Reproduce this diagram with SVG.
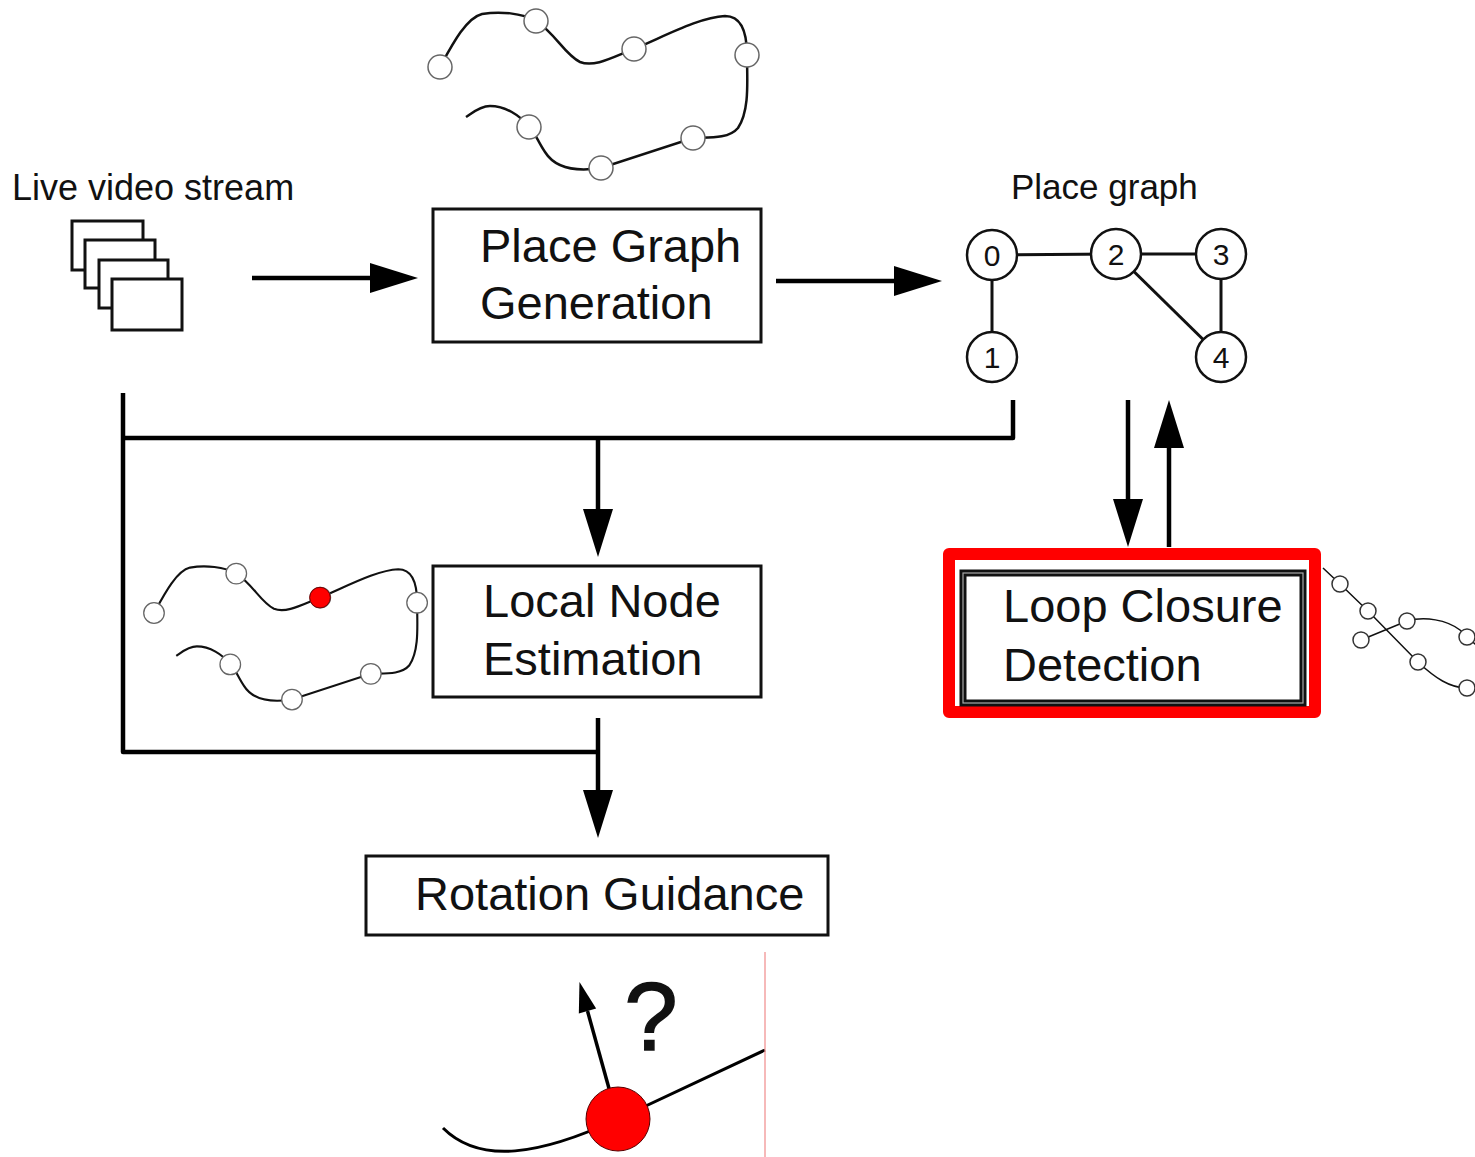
<svg xmlns="http://www.w3.org/2000/svg" xmlns:xlink="http://www.w3.org/1999/xlink" width="1475" height="1157" viewBox="0 0 1475 1157">
  <style>
    .label { font-family: "Liberation Sans", Arial, Helvetica, sans-serif; fill: #111; }
    .small { font-size: 35px; }
    .stream-title { font-size: 36px; }
    .box-text { font-size: 47px; }
    .digit { font-size: 30px; text-anchor: middle; }
    .box { fill: #fff; stroke: #111; stroke-width: 3; }
    .frame { fill: #fff; stroke: #111; stroke-width: 3; }
    .wire { fill: none; stroke: #000; stroke-width: 4.5; stroke-linejoin: round; }
    .edge { stroke: #111; stroke-width: 3; }
    .gnode { fill: #fff; stroke: #111; stroke-width: 2.5; }
    .track { fill: none; stroke: #111; stroke-width: 2.5; }
    .waypoint { fill: #fff; stroke: #666; stroke-width: 1.5; }
    .thin-track { fill: none; stroke: #111; stroke-width: 1.5; }
    .thin-waypoint { fill: #fff; stroke: #333; stroke-width: 1.5; }
  </style>
  <defs>
    <marker id="head" markerUnits="userSpaceOnUse" markerWidth="48" markerHeight="30" refX="0" refY="15" orient="auto" overflow="visible">
      <path d="M0,0 L48,15 L0,30 Z" fill="#000"/>
    </marker>
    <marker id="head-small" markerUnits="userSpaceOnUse" markerWidth="30" markerHeight="20" refX="0" refY="9" orient="auto" overflow="visible">
      <path d="M0,0 L30,9 L0,18 Z" fill="#000"/>
    </marker>
    <!-- trajectory sketch with sampled places -->
    <g id="trajectory">
      <path class="track" d="M440,67 C452,45 466,18 482,14 C500,11 522,13 536,21 C555,33 565,55 580,62 C595,68 615,56 634,49 C665,36 700,17 725,16 C745,16 747,40 747,55 C747,80 750,110 738,128 C728,140 705,137 693,138 L601,168 C575,172 555,168 545,152 C538,142 535,132 529,127 C520,115 505,106 490,106 C480,106 472,113 466,117"/>
      <circle class="waypoint" cx="440" cy="67" r="12"/>
      <circle class="waypoint" cx="536" cy="21" r="12"/>
      <circle class="waypoint" cx="634" cy="49" r="12"/>
      <circle class="waypoint" cx="747" cy="55" r="12"/>
      <circle class="waypoint" cx="529" cy="127" r="12"/>
      <circle class="waypoint" cx="601" cy="168" r="12"/>
      <circle class="waypoint" cx="693" cy="138" r="12"/>
    </g>
  </defs>

  <rect width="1475" height="1157" fill="#fff"/>

  <!-- connectors -->
  <g id="connectors">
    <line class="wire" x1="252" y1="278" x2="370" y2="278" marker-end="url(#head)"/>
    <line class="wire" x1="776" y1="281" x2="894" y2="281" marker-end="url(#head)"/>
    <path class="wire" d="M123,393 V752 H598"/>
    <path class="wire" d="M123,438 H1013 V400"/>
    <line class="wire" x1="598" y1="438" x2="598" y2="509" marker-end="url(#head)"/>
    <line class="wire" x1="598" y1="718" x2="598" y2="790" marker-end="url(#head)"/>
    <line class="wire" x1="1128" y1="400" x2="1128" y2="499" marker-end="url(#head)"/>
    <line class="wire" x1="1169" y1="547" x2="1169" y2="448" marker-end="url(#head)"/>
  </g>

  <!-- live video stream -->
  <g id="video-stream">
    <text class="label stream-title" x="12" y="200">Live video stream</text>
    <rect class="frame" x="72" y="221" width="71" height="49"/>
    <rect class="frame" x="85" y="240" width="70" height="48"/>
    <rect class="frame" x="99" y="260" width="69" height="48"/>
    <rect class="frame" x="112" y="279" width="70" height="51"/>
  </g>

  <!-- sketch above the generation step -->
  <g id="generated-trajectory">
    <use xlink:href="#trajectory"/>
  </g>

  <g id="place-graph-generation">
    <rect class="box" x="433" y="209" width="328" height="133"/>
    <text class="label box-text" x="480" y="262">Place Graph</text>
    <text class="label box-text" x="480" y="319">Generation</text>
  </g>

  <!-- place graph -->
  <g id="place-graph">
    <text class="label small" x="1011" y="199">Place graph</text>
    <line class="edge" x1="992" y1="255" x2="1116" y2="254"/>
    <line class="edge" x1="1116" y1="254" x2="1221" y2="254"/>
    <line class="edge" x1="992" y1="255" x2="992" y2="357"/>
    <line class="edge" x1="1221" y1="254" x2="1221" y2="357"/>
    <line class="edge" x1="1116" y1="254" x2="1221" y2="357"/>
    <circle class="gnode" cx="992" cy="255" r="25"/>
    <circle class="gnode" cx="1116" cy="254" r="25"/>
    <circle class="gnode" cx="1221" cy="254" r="25"/>
    <circle class="gnode" cx="992" cy="357" r="25"/>
    <circle class="gnode" cx="1221" cy="357" r="25"/>
    <text class="label digit" x="992" y="266">0</text>
    <text class="label digit" x="1116" y="265">2</text>
    <text class="label digit" x="1221" y="265">3</text>
    <text class="label digit" x="992" y="368">1</text>
    <text class="label digit" x="1221" y="368">4</text>
  </g>

  <!-- local node estimation with current place marked -->
  <g id="local-trajectory">
    <use xlink:href="#trajectory" transform="translate(154,613) scale(0.857) translate(-440,-67)"/>
    <circle cx="320" cy="597.6" r="10.3" fill="#f00" stroke="#700" stroke-width="1"/>
  </g>

  <g id="local-node-estimation">
    <rect class="box" x="433" y="566" width="328" height="131"/>
    <text class="label box-text" x="483" y="617">Local Node</text>
    <text class="label box-text" x="483" y="675">Estimation</text>
  </g>

  <!-- loop closure detection, highlighted -->
  <g id="loop-closure-detection">
    <rect x="949" y="554" width="366" height="158" fill="none" stroke="#f00" stroke-width="12" stroke-linejoin="round"/>
    <rect x="963" y="573" width="340" height="130" fill="#fff" stroke="#111" stroke-width="7"/>
    <rect x="963" y="573" width="340" height="130" fill="none" stroke="#aaa" stroke-width="1.2"/>
    <text class="label box-text" x="1003" y="622">Loop Closure</text>
    <text class="label box-text" x="1003" y="681">Detection</text>
  </g>

  <g id="loop-trajectory">
    <path class="thin-track" d="M1323,568 L1340,584 L1368,611 L1418,662 C1435,678 1450,688 1467,688 L1476,688"/>
    <path class="thin-track" d="M1361,640 L1407,621 C1425,616 1447,620 1460,630 L1476,645"/>
    <circle class="thin-waypoint" cx="1340" cy="584" r="8"/>
    <circle class="thin-waypoint" cx="1368" cy="611" r="8"/>
    <circle class="thin-waypoint" cx="1407" cy="621" r="8"/>
    <circle class="thin-waypoint" cx="1361" cy="640" r="8"/>
    <circle class="thin-waypoint" cx="1418" cy="662" r="8"/>
    <circle class="thin-waypoint" cx="1467" cy="637" r="8"/>
    <circle class="thin-waypoint" cx="1467" cy="688" r="8"/>
  </g>

  <!-- rotation guidance -->
  <g id="rotation-guidance">
    <rect class="box" x="366" y="856" width="462" height="79"/>
    <text class="label box-text" x="415" y="910">Rotation Guidance</text>
  </g>

  <g id="heading-sketch">
    <path d="M443,1128 C480,1165 540,1155 618,1119 L765,1050" fill="none" stroke="#000" stroke-width="3"/>
    <line x1="610" y1="1092" x2="587.5" y2="1011" stroke="#000" stroke-width="3.5" marker-end="url(#head-small)"/>
    <circle cx="618" cy="1119" r="32" fill="#f00" stroke="#500" stroke-width="1"/>
    <text class="label" x="651" y="1050" font-size="96" text-anchor="middle" stroke="#111" stroke-width="1.5">?</text>
    <line x1="765" y1="952" x2="765" y2="1157" stroke="#f08a8a" stroke-width="1.2"/>
  </g>
</svg>
